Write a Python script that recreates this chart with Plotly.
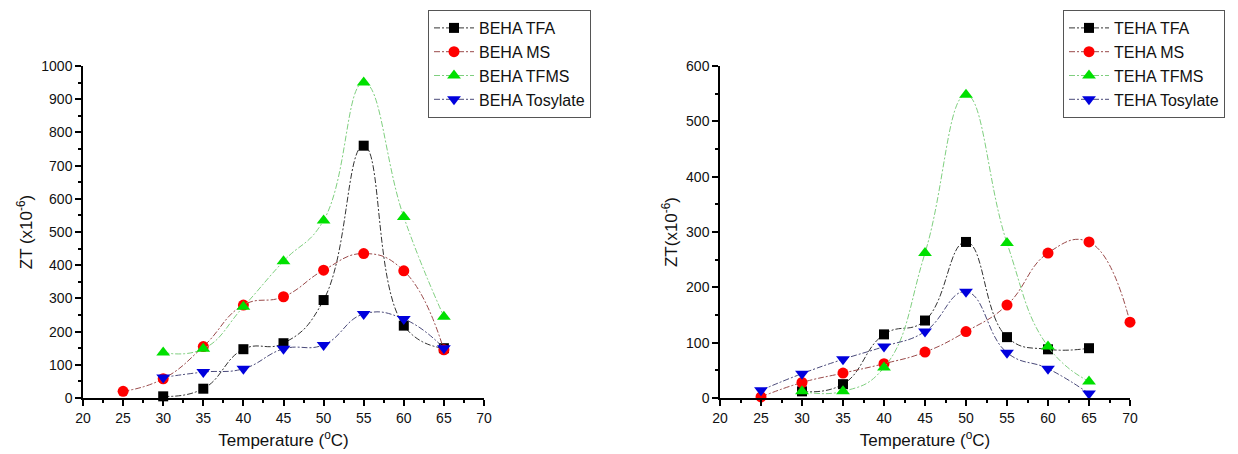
import plotly.graph_objects as go

# ---- data ----
beha_tfa_x = [30, 35, 40, 45, 50, 55, 60, 65]
beha_tfa_y = [5, 28, 147, 165, 295, 760, 218, 150]
beha_ms_x = [25, 30, 35, 40, 45, 50, 55, 60, 65]
beha_ms_y = [20, 58, 155, 280, 305, 385, 435, 383, 145]
beha_tfms_x = [30, 35, 40, 45, 50, 55, 60, 65]
beha_tfms_y = [137, 148, 275, 412, 535, 950, 545, 245]
beha_tos_x = [30, 35, 40, 45, 50, 55, 60, 65]
beha_tos_y = [62, 78, 88, 148, 160, 253, 238, 150]

teha_tfa_x = [30, 35, 40, 45, 50, 55, 60, 65]
teha_tfa_y = [12, 25, 115, 140, 282, 110, 88, 90]
teha_ms_x = [25, 30, 35, 40, 45, 50, 55, 60, 65, 70]
teha_ms_y = [2, 28, 45, 62, 83, 120, 168, 262, 282, 137]
teha_tfms_x = [30, 35, 40, 45, 50, 55, 60, 65]
teha_tfms_y = [12, 12, 55, 262, 548, 280, 93, 30]
teha_tos_x = [25, 30, 35, 40, 45, 50, 55, 60, 65]
teha_tos_y = [14, 44, 70, 93, 120, 192, 82, 53, 8]

x_ticks = [20, 25, 30, 35, 40, 45, 50, 55, 60, 65, 70]

styles = [
    dict(line="#333333", marker="#000000", symbol="square", size=10),
    dict(line="#9a4a4a", marker="#ff0000", symbol="circle", size=11),
    dict(line="#7fcf7f", marker="#00e000", symbol="triangle-up", size=12),
    dict(line="#4a4a7a", marker="#0000dd", symbol="triangle-down", size=12),
]

fig = go.Figure()

left = [("BEHA TFA", beha_tfa_x, beha_tfa_y), ("BEHA MS", beha_ms_x, beha_ms_y),
        ("BEHA TFMS", beha_tfms_x, beha_tfms_y), ("BEHA Tosylate", beha_tos_x, beha_tos_y)]
right = [("TEHA TFA", teha_tfa_x, teha_tfa_y), ("TEHA MS", teha_ms_x, teha_ms_y),
         ("TEHA TFMS", teha_tfms_x, teha_tfms_y), ("TEHA Tosylate", teha_tos_x, teha_tos_y)]

for group, xa, ya, lg in [(left, "x", "y", "legend"), (right, "x2", "y2", "legend2")]:
    for (name, xs, ys), st in zip(group, styles):
        fig.add_trace(go.Scatter(
            x=xs, y=ys, name=name, mode="lines+markers",
            line=dict(color=st["line"], width=1, dash="6px,2px,2px,2px", shape="spline", smoothing=1.3),
            marker=dict(symbol=st["symbol"], color=st["marker"], size=st["size"]),
            cliponaxis=False, xaxis=xa, yaxis=ya, legend=lg))

W, H = 1238, 454
font = "Liberation Sans, Arial, sans-serif"

def xax(domain, anchor):
    return dict(domain=domain, anchor=anchor, range=[20, 70], tickvals=x_ticks, automargin=False,
                showline=True, linecolor="#000", linewidth=1.5, ticks="outside",
                ticklen=6, tickwidth=1.5, tickcolor="#000", showgrid=False, zeroline=False,
                minor=dict(dtick=2.5, tick0=20, ticks="outside", ticklen=3, tickcolor="#000", tickwidth=1.5),
                tickfont=dict(size=14, color="#111", family=font),
                title=dict(text="Temperature (<sup>o</sup>C)", font=dict(size=17, color="#111", family=font), standoff=10))

def yax(domain, anchor, rng, dtick, title):
    return dict(domain=domain, anchor=anchor, range=rng, dtick=dtick, automargin=False,
                showline=True, linecolor="#000", linewidth=1.5, ticks="outside",
                ticklen=6, tickwidth=1.5, tickcolor="#000", showgrid=False, zeroline=False,
                minor=dict(dtick=dtick / 2, ticks="outside", ticklen=3, tickcolor="#000", tickwidth=1.5),
                tickfont=dict(size=14, color="#111", family=font),
                title=dict(text=title, font=dict(size=17, color="#111", family=font), standoff=4))

ydom = [(H - 398) / H, (H - 66) / H]

leg_common = dict(xanchor="left", yanchor="top", bordercolor="#555", borderwidth=1, bgcolor="white",
                  font=dict(size=16, family=font, color="#111"), itemwidth=40, tracegroupgap=0)

fig.update_layout(
    width=W, height=H,
    margin=dict(l=0, r=0, t=0, b=0, autoexpand=False),
    paper_bgcolor="white", plot_bgcolor="white",
    font=dict(family=font, color="#111"),
    xaxis=xax([83 / W, 484 / W], "y"),
    yaxis=yax(ydom, "x", [0, 1000], 100, "ZT (x10<sup>-6</sup>)"),
    xaxis2=xax([720 / W, 1130 / W], "y2"),
    yaxis2=yax(ydom, "x2", [0, 600], 100, "ZT(x10<sup>-6</sup>)"),
    legend=dict(x=428 / W, y=(H - 10) / H, **leg_common),
    legend2=dict(x=1063 / W, y=(H - 10) / H, **leg_common),
    showlegend=True,
)

fig.write_html("out.html", config={"displayModeBar": False},
               post_script="document.body.style.margin='0';document.body.style.overflow='hidden';")
